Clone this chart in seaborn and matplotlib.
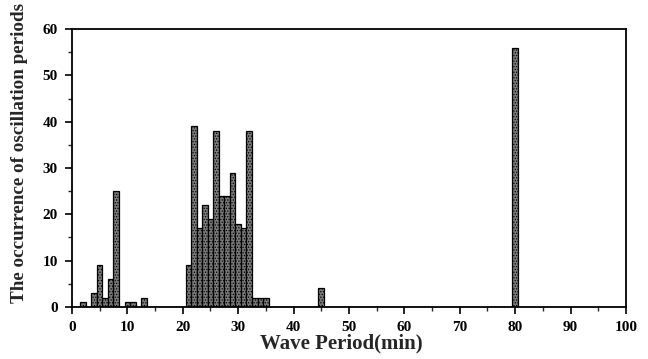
import matplotlib
matplotlib.use("Agg")
import matplotlib.pyplot as plt
import seaborn as sns
import pandas as pd
from matplotlib.ticker import MultipleLocator

periods = [2, 4, 5, 6, 7, 8, 10, 11, 13,
           21, 22, 23, 24, 25, 26, 27, 28, 29, 30, 31, 32, 33, 34, 35,
           45, 80]
counts = [1, 3, 9, 2, 6, 25, 1, 1, 2,
          9, 39, 17, 22, 19, 38, 24, 24, 29, 18, 17, 38, 2, 2, 2,
          4, 56]

x_label = "Wave Period(min)"
y_label = "The occurrence of oscillation periods"

df = pd.DataFrame({"period": periods, "count": counts})

sns.set_style("ticks")
plt.rcParams["font.family"] = ["Liberation Serif", "DejaVu Serif"]
plt.rcParams["font.weight"] = "bold"
plt.rcParams["hatch.color"] = "#1a1a1a"
plt.rcParams["hatch.linewidth"] = 0.6

fig = plt.figure(figsize=(6.48, 3.59), dpi=100)
ax = fig.add_axes([0.111, 0.145, 0.855, 0.774])

sns.histplot(data=df, x="period", weights="count", discrete=True, ax=ax,
             color="#7a7a7a", alpha=1, edgecolor="black", linewidth=0.9)
for p in ax.patches:
    p.set_hatch("......")

ax.set_xlim(0, 100)
ax.set_ylim(0, 60)
ax.xaxis.set_major_locator(MultipleLocator(10))
ax.xaxis.set_minor_locator(MultipleLocator(5))
ax.yaxis.set_major_locator(MultipleLocator(10))
ax.yaxis.set_minor_locator(MultipleLocator(5))
ax.tick_params(axis="both", which="major", direction="out", length=5, width=1.2,
               labelsize=11, colors="black", pad=5)
ax.tick_params(axis="both", which="minor", direction="out", length=3, width=1.0)
for lab in ax.get_xticklabels() + ax.get_yticklabels():
    lab.set_fontweight("bold")

for s in ax.spines.values():
    s.set_visible(True)
    s.set_linewidth(1.3)
    s.set_color("black")

ax.set_xlabel(x_label, fontsize=15, fontweight="bold")
ax.set_ylabel(y_label, fontsize=13.8, fontweight="bold")
ax.xaxis.set_label_coords(0.486, -0.095)
ax.yaxis.set_label_coords(-0.079, 0.554)

fig.savefig("out.png", dpi=100)
